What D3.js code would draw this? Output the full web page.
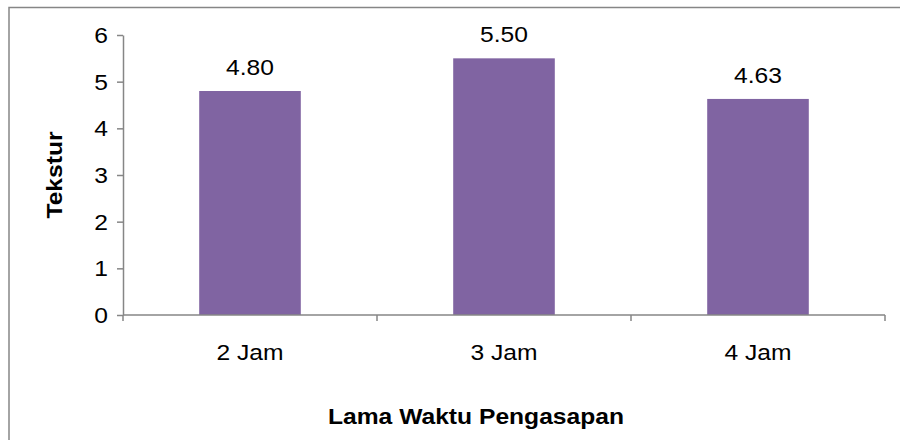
<!DOCTYPE html>
<html>
<head>
<meta charset="utf-8">
<script src="https://cdn.jsdelivr.net/npm/d3@7"></script>
<style>
  body { margin: 0; background: #fff; }
  svg { display: block; font-family: "Liberation Sans", Arial, sans-serif; }
</style>
</head>
<body>
<div id="chart"></div>
<script>
'use strict';

// chart data
const categories = ["2 Jam", "3 Jam", "4 Jam"];
const values = [4.80, 5.50, 4.63];
const yTicks = [0, 1, 2, 3, 4, 5, 6];
const xTitle = "Lama Waktu Pengasapan";
const yTitle = "Tekstur";

const width = 900, height = 440;
const plot = { left: 123, right: 885, top: 35, bottom: 315 };
const axisColor = "#868686";
const barColor = "#8064A2";
const fontSize = "22px";
const stretch = "scale(1.12,1)"; // reference text is a bit wider than Arial

const svg = d3.select("#chart")
    .append("svg")
    .attr("width", width)
    .attr("height", height);

// outer chart frame (runs off the right and bottom edge)
svg.append("rect")
    .attr("x", 9)
    .attr("y", 7.5)
    .attr("width", width)
    .attr("height", height)
    .attr("fill", "none")
    .attr("stroke", axisColor)
    .attr("stroke-width", 1.5);

// scales
const x = d3.scaleBand()
    .domain(categories)
    .range([plot.left, plot.right])
    .paddingInner(0.6)
    .paddingOuter(0.3);

const xEdges = d3.scaleBand()
    .domain(categories)
    .range([plot.left, plot.right]);

const y = d3.scaleLinear()
    .domain([0, 6])
    .range([plot.bottom, plot.top]);

// y axis
const yAxis = svg.append("g")
    .attr("transform", "translate(" + plot.left + ",0)")
    .call(d3.axisLeft(y).tickValues(yTicks).tickSize(6).tickSizeOuter(0).tickFormat(d3.format("d")));
yAxis.select(".domain").attr("stroke", axisColor).attr("stroke-width", 1.5);
yAxis.selectAll(".tick line").attr("stroke", axisColor).attr("stroke-width", 1.5);
yAxis.selectAll(".tick text")
    .attr("x", 0)
    .attr("dy", "0.34em")
    .attr("transform", "translate(-15,0) " + stretch)
    .attr("fill", "#000")
    .style("font-size", fontSize)
    .style("font-family", "Liberation Sans, Arial, sans-serif");

// bars
svg.selectAll("rect.bar")
    .data(values)
    .enter()
    .append("rect")
    .attr("class", "bar")
    .attr("x", (d, i) => x(categories[i]))
    .attr("y", d => y(d))
    .attr("width", x.bandwidth())
    .attr("height", d => y(0) - y(d))
    .attr("fill", barColor);

// x axis: ticks at category boundaries
const xAxisG = svg.append("g")
    .attr("transform", "translate(0," + plot.bottom + ")");
xAxisG.append("line")
    .attr("x1", plot.left)
    .attr("x2", plot.right)
    .attr("stroke", axisColor)
    .attr("stroke-width", 1.5);
const boundaries = categories.map(c => xEdges(c)).concat([plot.right]);
xAxisG.selectAll("line.tick")
    .data(boundaries)
    .enter()
    .append("line")
    .attr("class", "tick")
    .attr("x1", d => d)
    .attr("x2", d => d)
    .attr("y1", 0)
    .attr("y2", 6)
    .attr("stroke", axisColor)
    .attr("stroke-width", 1.5);
xAxisG.selectAll("text")
    .data(categories)
    .enter()
    .append("text")
    .attr("transform", d => "translate(" + (xEdges(d) + xEdges.bandwidth() / 2) + ",45) " + stretch)
    .attr("text-anchor", "middle")
    .style("font-size", fontSize)
    .text(d => d);

// value labels
svg.selectAll("text.value")
    .data(values)
    .enter()
    .append("text")
    .attr("class", "value")
    .attr("transform", (d, i) => "translate(" + (x(categories[i]) + x.bandwidth() / 2) + "," + (y(d) - 16) + ") " + stretch)
    .attr("text-anchor", "middle")
    .style("font-size", fontSize)
    .text(d => d.toFixed(2));

// axis titles
svg.append("text")
    .attr("transform", "translate(476,424) " + stretch)
    .attr("text-anchor", "middle")
    .style("font-size", fontSize)
    .style("font-weight", "bold")
    .text(xTitle);

svg.append("text")
    .attr("transform", "translate(62,175) rotate(-90) " + stretch)
    .attr("text-anchor", "middle")
    .style("font-size", fontSize)
    .style("font-weight", "bold")
    .text(yTitle);
</script>
</body>
</html>
